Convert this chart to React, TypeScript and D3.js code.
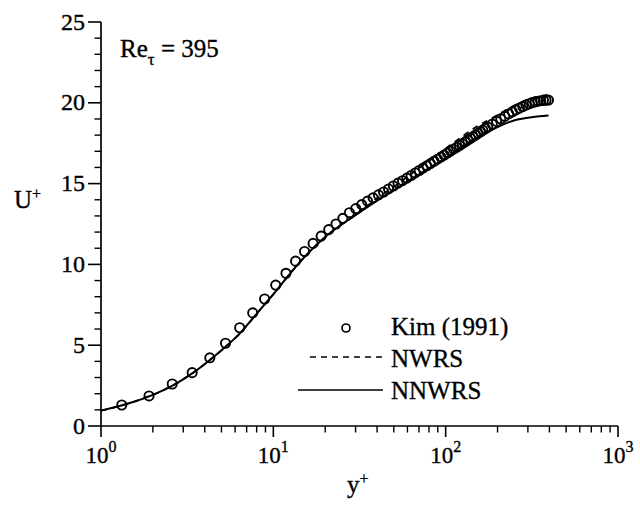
import React from "react";
import * as d3 from "d3";

// Kim (1991) DNS, Re_tau = 395
const kimYPlus = [
  1.32, 1.90, 2.59, 3.38, 4.28, 5.28, 6.38, 7.59, 8.90, 10.32, 11.84, 13.46, 15.18, 17.01, 18.94,
  20.96, 23.09, 25.32, 27.64, 30.07, 32.59, 35.21, 37.92, 40.73, 43.63, 46.62, 49.71, 52.92, 56.21,
  59.58, 63.02, 66.57, 70.19, 73.90, 77.71, 81.61, 85.62, 89.68, 93.78, 98.06, 102.3, 106.7, 111.2,
  115.7, 120.3, 124.9, 129.8, 134.4, 139.4, 144.1, 149.3, 154.1, 159.5, 164.2, 169.9, 175.5, 186.4,
  197.5, 208.8, 220.3, 232.2, 243.8, 256.1, 268.0, 280.3, 292.8, 305.3, 317.9, 330.7, 343.5, 356.3,
  369.2, 382.1, 395.0,
];
const kimUPlus = [
  1.30, 1.86, 2.60, 3.30, 4.22, 5.12, 6.08, 7.00, 7.86, 8.72, 9.45, 10.2, 10.8, 11.3, 11.75,
  12.15, 12.5, 12.85, 13.2, 13.45, 13.7, 13.92, 14.12, 14.3, 14.48, 14.67, 14.85, 15.03, 15.18,
  15.34, 15.5, 15.66, 15.81, 15.96, 16.1, 16.24, 16.38, 16.51, 16.64, 16.76, 16.89, 17.01, 17.13,
  17.24, 17.36, 17.47, 17.58, 17.69, 17.8, 17.91, 18.01, 18.11, 18.21, 18.31, 18.41, 18.5, 18.68,
  18.85, 19.01, 19.16, 19.31, 19.44, 19.56, 19.67, 19.77, 19.86, 19.94, 20.01, 20.06, 20.1, 20.13,
  20.15, 20.16, 20.17,
];

// NNWRS (solid)
const nnwrsYPlus = [1, 1.5, 2, 2.6, 3.4, 4.3, 5.3, 6.4, 7.6, 8.9, 10.3, 11.8, 14, 17, 20, 24, 30, 40, 50, 70, 100, 150, 200, 257, 300, 350, 395];
const nnwrsUPlus = [0.95, 1.45, 1.93, 2.5, 3.27, 4.1, 4.92, 5.73, 6.66, 7.53, 8.31, 9.1, 10.05, 11.0, 11.7, 12.35, 13.05, 13.95, 14.6, 15.55, 16.6, 17.75, 18.5, 18.95, 19.08, 19.17, 19.22];

// NWRS (dashed)
const nwrsYPlus = [1, 1.5, 2, 2.6, 3.4, 4.3, 5.3, 6.4, 7.6, 8.9, 10.3, 11.8, 14, 17, 20, 24, 30, 40, 50, 70, 90, 110, 130, 150, 184, 220, 258, 300, 350, 395];
const nwrsUPlus = [0.95, 1.45, 1.93, 2.5, 3.27, 4.1, 4.92, 5.73, 6.66, 7.53, 8.31, 9.1, 10.05, 11.0, 11.7, 12.35, 13.05, 14.1, 14.8, 15.95, 16.8, 17.5, 18.05, 18.5, 19.02, 19.5, 19.9, 20.2, 20.4, 20.5];

const xMajorTicks = [1, 10, 100, 1000];
const xTickExps = ["0", "1", "2", "3"];
const yMajorTicks = [0, 5, 10, 15, 20, 25];

const legendLabels = ["Kim (1991)", "NWRS", "NNWRS"];

const FONT = "'Liberation Serif', 'Times New Roman', serif";

export default function App() {
  const x = d3.scaleLog().domain([1, 1000]).range([101, 618]);
  const y = d3.scaleLinear().domain([0, 25]).range([426, 22]);

  const xMinor: number[] = [];
  [1, 10, 100].forEach((d) => {
    for (let k = 2; k <= 9; k++) xMinor.push(d * k);
  });
  const yMinor = d3.range(0, 26, 1).filter((v) => v % 5 !== 0);

  const line = d3
    .line<[number, number]>()
    .x((d) => x(d[0]))
    .y((d) => y(d[1]))
    .curve(d3.curveMonotoneX);

  const nnwrs = line(nnwrsYPlus.map((v, i) => [v, nnwrsUPlus[i]]) as [number, number][]) || "";
  const nwrs = line(nwrsYPlus.map((v, i) => [v, nwrsUPlus[i]]) as [number, number][]) || "";

  const txt = { fill: "#000", stroke: "#000", strokeWidth: 0.35 };

  return (
    <svg
      width={640}
      height={506}
      style={{ position: "absolute", left: 0, top: 0, background: "#fff" }}
      fontFamily={FONT}
    >
      <rect x={0} y={0} width={640} height={506} fill="#fff" />
      {/* axes */}
      <line x1={x(1)} x2={x(1000)} y1={y(0)} y2={y(0)} stroke="#000" strokeWidth={1.7} />
      <line x1={x(1)} x2={x(1)} y1={y(0)} y2={y(25)} stroke="#000" strokeWidth={1.7} />

      {xMajorTicks.map((t, i) => (
        <g key={"xm" + t}>
          <line x1={x(t)} x2={x(t)} y1={y(0)} y2={y(0) + 11} stroke="#000" strokeWidth={1.6} />
          <text x={x(t)} y={463} fontSize={23} textAnchor="middle" {...txt}>
            10
            <tspan dy={-11} fontSize={16}>
              {xTickExps[i]}
            </tspan>
          </text>
        </g>
      ))}
      {xMinor.map((t) => (
        <line key={"xn" + t} x1={x(t)} x2={x(t)} y1={y(0)} y2={y(0) + 6.5} stroke="#000" strokeWidth={1.4} />
      ))}
      {yMajorTicks.map((t) => (
        <g key={"ym" + t}>
          <line x1={x(1) - 13} x2={x(1)} y1={y(t)} y2={y(t)} stroke="#000" strokeWidth={1.6} />
          <text x={85} y={y(t) + 7.5} fontSize={24} textAnchor="end" {...txt}>
            {t}
          </text>
        </g>
      ))}
      {yMinor.map((t) => (
        <line key={"yn" + t} x1={x(1) - 6.5} x2={x(1)} y1={y(t)} y2={y(t)} stroke="#000" strokeWidth={1.4} />
      ))}

      {/* axis titles */}
      <text x={14} y={208} fontSize={25} {...txt}>
        U
        <tspan dy={-9} fontSize={16}>+</tspan>
      </text>
      <text x={347} y={493} fontSize={25} {...txt}>
        y
        <tspan dy={-9} fontSize={16}>+</tspan>
      </text>

      {/* annotation */}
      <text x={120} y={57} fontSize={25} {...txt}>
        Re
        <tspan dy={8} fontSize={17}>τ</tspan>
        <tspan dy={-8}> = 395</tspan>
      </text>

      {/* curves */}
      <path d={nwrs} fill="none" stroke="#000" strokeWidth={1.8} strokeDasharray="6,5" />
      <path d={nnwrs} fill="none" stroke="#000" strokeWidth={2} />

      {/* Kim circles */}
      {kimYPlus.map((v, i) => (
        <circle key={"k" + i} cx={x(v)} cy={y(kimUPlus[i])} r={4.6} fill="none" stroke="#000" strokeWidth={1.9} />
      ))}

      {/* legend */}
      <circle cx={346} cy={328} r={4} fill="none" stroke="#000" strokeWidth={1.7} />
      <text x={391} y={335} fontSize={25} {...txt}>{legendLabels[0]}</text>
      <line x1={310} x2={383} y1={357} y2={357} stroke="#000" strokeWidth={1.5} strokeDasharray="6,5" />
      <text x={391} y={367} fontSize={25} {...txt}>{legendLabels[1]}</text>
      <line x1={298} x2={383} y1={390} y2={390} stroke="#000" strokeWidth={1.6} />
      <text x={391} y={399} fontSize={25} {...txt}>{legendLabels[2]}</text>
    </svg>
  );
}
